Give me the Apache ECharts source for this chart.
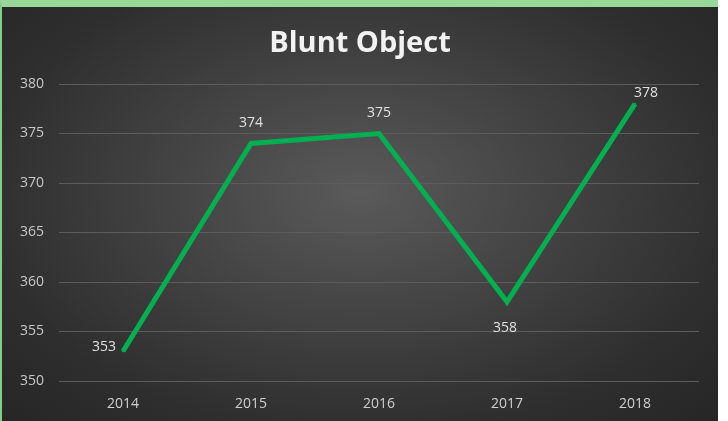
<!DOCTYPE html>
<html><head><meta charset="utf-8">
<script src="https://cdn.jsdelivr.net/npm/echarts@6/dist/echarts.min.js"></script>
<style>
html,body{margin:0;padding:0;background:#fff;}
#wrap{position:absolute;left:0;top:0;width:716px;height:414px;border-top:7px solid #98d898;border-left:2px solid #7fcf8a;
background:radial-gradient(ellipse at 50% 45%, #5a5a5a 0%, #454545 35%, #2e2e2e 75%, #262626 100%);}
#chart{width:716px;height:414px;}
</style></head>
<body><div id="wrap"><div id="chart"></div></div>
<script>
const categories = ['2014','2015','2016','2017','2018'];
const values = [353, 374, 375, 358, 378];
const yTicks = {min: 350, max: 380, interval: 5};
const labelPos = ['left','top','top','bottom','top'];
const labelOffsets = [[6, -4], [0, 0], [0, 0], [-2, 6], [11, 9]];

const chart = echarts.init(document.getElementById('chart'));
chart.setOption({
  backgroundColor: 'transparent',
  title: {text: 'Blunt Object', left: 'center', top: 17,
    textStyle: {color: '#f2f2f2', fontSize: 29, fontWeight: 'bold', fontFamily: 'Open Sans'}},
  grid: {left: 57, right: 19, top: 77, bottom: 40},
  xAxis: {type: 'category', data: categories, boundaryGap: true,
    axisLine: {show: false}, axisTick: {show: false},
    axisLabel: {color: '#d0d0d0', fontSize: 14, fontFamily: 'Open Sans', margin: 16}},
  yAxis: {type: 'value', min: yTicks.min, max: yTicks.max, interval: yTicks.interval,
    axisLine: {show: false}, axisTick: {show: false},
    axisLabel: {color: '#c8c8c8', fontSize: 14, fontFamily: 'Open Sans', margin: 15},
    splitLine: {lineStyle: {color: '#5c5c5c', width: 1}}},
  series: [{type: 'line', data: values.map((v, i) => ({value: v,
      label: {position: labelPos[i], offset: labelOffsets[i]}})),
    symbol: 'circle', symbolSize: 2, showSymbol: true,
    lineStyle: {color: '#00b050', width: 5, join: 'miter'}, itemStyle: {color: '#00b050'},
    label: {show: true, color: '#e0e0e0', fontSize: 14, fontFamily: 'Open Sans', distance: 12}}]
});
</script></body></html>
